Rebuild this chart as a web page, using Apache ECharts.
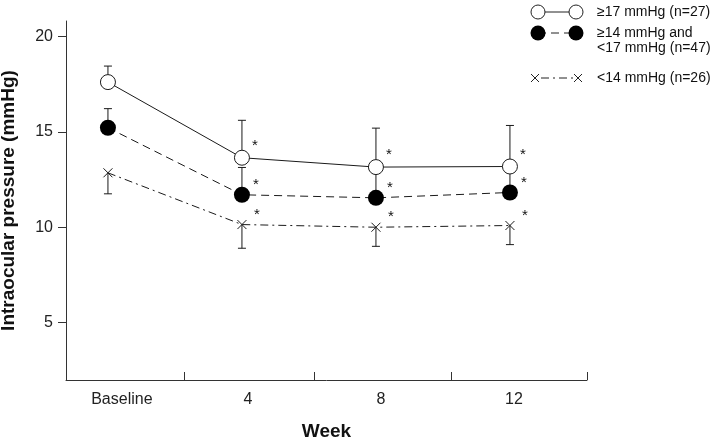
<!DOCTYPE html>
<html>
<head>
<meta charset="utf-8">
<script src="https://cdn.jsdelivr.net/npm/echarts@6/dist/echarts.min.js"></script>
<style>
html, body { margin: 0; padding: 0; background: #fff; }
#main { width: 710px; height: 439px; }
</style>
</head>
<body>
<div id="main"></div>
<script>
// x positions: 0 = Baseline, 1 = week 4, 2 = week 8, 3 = week 12
var weekLabels = ['Baseline', '4', '8', '12'];
var weekIdx = [0, 1, 2, 3];

var highMean = [17.6, 13.64, 13.15, 13.18];
var highUpper = [18.44, 15.6, 15.19, 15.33];

var midMean = [15.21, 11.7, 11.54, 11.82];
var midUpper = [16.21, 13.13, 13.0, 13.0];

var lowMean = [12.85, 10.14, 10.0, 10.09];
var lowLower = [11.75, 8.9, 9.0, 9.09];

var yTicks = [5, 10, 15, 20];

chart01();

function pairs(ys) {
    return ys.map(function (y, i) {
        return { value: [weekIdx[i], y], label: { show: i > 0 } };
    });
}

function bars(ys, ends) {
    return ys.map(function (y, i) { return [weekIdx[i], y, ends[i]]; });
}

function renderErr(params, api) {
    var p0 = api.coord([api.value(0), api.value(1)]);
    var p1 = api.coord([api.value(0), api.value(2)]);
    var st = { stroke: '#1a1a1a', lineWidth: 1 };
    return {
        type: 'group',
        children: [
            { type: 'line', shape: { x1: p0[0], y1: p0[1], x2: p1[0], y2: p1[1] }, style: st },
            { type: 'line', shape: { x1: p1[0] - 4, y1: p1[1], x2: p1[0] + 4, y2: p1[1] }, style: st }
        ]
    };
}

function chart01() {
    var myChart = echarts.init(document.getElementById('main'));
    var font = 'Liberation Sans, Arial, sans-serif';
    var star = {
        formatter: '*', position: 'right', color: '#111', fontSize: 15,
        fontFamily: font, offset: [2, -10]
    };
    var crossPath = 'path://M0,0L10,10M10,0L0,10';

    var option = {
        animation: false,
        textStyle: { fontFamily: font },
        grid: { left: 66, right: 123, top: 21, bottom: 59, outerBoundsMode: 'none', containLabel: false },
        xAxis: {
            type: 'value',
            min: -0.313, max: 3.575,
            name: 'Week', nameLocation: 'middle', nameGap: 42,
            nameTextStyle: { fontSize: 19, fontWeight: 'bold', color: '#111', fontFamily: font },
            axisLine: { onZero: false, lineStyle: { color: '#333', width: 1 } },
            axisTick: { show: true, inside: true, length: 8, lineStyle: { color: '#333' },
                customValues: [0.567, 1.537, 2.56, 3.575] },
            axisLabel: {
                customValues: [0.104, 1.045, 2.037, 3.03],
                formatter: function (v) { return weekLabels[Math.round(v)]; },
                fontSize: 16, color: '#222', margin: 12, fontFamily: font
            },
            splitLine: { show: false }
        },
        yAxis: {
            type: 'value',
            min: 2, max: 20.8,
            name: 'Intraocular pressure (mmHg)', nameLocation: 'middle', nameGap: 48,
            nameTextStyle: { fontSize: 19, fontWeight: 'bold', color: '#111', fontFamily: font },
            axisLine: { show: true, onZero: false, lineStyle: { color: '#333', width: 1 } },
            axisTick: { show: true, length: 8, lineStyle: { color: '#333' }, customValues: yTicks },
            axisLabel: { customValues: yTicks, fontSize: 16, color: '#222', margin: 13, fontFamily: font },
            splitLine: { show: false }
        },
        graphic: [
            // legend row 1
            { type: 'line', shape: { x1: 538, y1: 12, x2: 576, y2: 12 }, style: { stroke: '#222', lineWidth: 1 } },
            { type: 'circle', shape: { cx: 538, cy: 12, r: 7 }, style: { fill: '#fff', stroke: '#222', lineWidth: 1 } },
            { type: 'circle', shape: { cx: 576, cy: 12, r: 7 }, style: { fill: '#fff', stroke: '#222', lineWidth: 1 } },
            { type: 'text', x: 597, y: 12, style: { text: '≥17 mmHg (n=27)', font: '14px ' + font, fill: '#111', verticalAlign: 'middle' } },
            // legend row 2
            { type: 'line', shape: { x1: 538, y1: 33, x2: 576, y2: 33 }, style: { stroke: '#222', lineWidth: 1, lineDash: [8, 5] } },
            { type: 'circle', shape: { cx: 538, cy: 33, r: 7.5 }, style: { fill: '#000' } },
            { type: 'circle', shape: { cx: 576, cy: 33, r: 7.5 }, style: { fill: '#000' } },
            { type: 'text', x: 597, y: 33, style: { text: '≥14 mmHg and', font: '14px ' + font, fill: '#111', verticalAlign: 'middle' } },
            { type: 'text', x: 597, y: 48, style: { text: '<17 mmHg (n=47)', font: '14px ' + font, fill: '#111', verticalAlign: 'middle' } },
            // legend row 3
            { type: 'line', shape: { x1: 541, y1: 78, x2: 573, y2: 78 }, style: { stroke: '#222', lineWidth: 1, lineDash: [8, 4, 2, 4] } },
            { type: 'polyline', shape: { points: [[531, 74], [539, 82]] }, style: { stroke: '#222', lineWidth: 1 } },
            { type: 'polyline', shape: { points: [[531, 82], [539, 74]] }, style: { stroke: '#222', lineWidth: 1 } },
            { type: 'polyline', shape: { points: [[574, 74], [582, 82]] }, style: { stroke: '#222', lineWidth: 1 } },
            { type: 'polyline', shape: { points: [[574, 82], [582, 74]] }, style: { stroke: '#222', lineWidth: 1 } },
            { type: 'text', x: 597, y: 78, style: { text: '<14 mmHg (n=26)', font: '14px ' + font, fill: '#111', verticalAlign: 'middle' } }
        ],
        series: [{
            type: 'custom', renderItem: renderErr, data: bars(highMean, highUpper), z: 1, silent: true
        }, {
            type: 'custom', renderItem: renderErr, data: bars(midMean, midUpper), z: 1, silent: true
        }, {
            type: 'custom', renderItem: renderErr, data: bars(lowMean, lowLower), z: 1, silent: true
        }, {
            name: '≥17 mmHg (n=27)',
            type: 'line', z: 3,
            data: pairs(highMean),
            symbol: 'circle', symbolSize: 15,
            lineStyle: { color: '#1a1a1a', width: 1, type: 'solid' },
            itemStyle: { color: '#fff', borderColor: '#1a1a1a', borderWidth: 1 },
            label: Object.assign({}, star, { offset: [-3, -12] })
        }, {
            name: '≥14 mmHg and <17 mmHg (n=47)',
            type: 'line', z: 3,
            data: pairs(midMean),
            symbol: 'circle', symbolSize: 16,
            lineStyle: { color: '#1a1a1a', width: 1, type: [8, 5] },
            itemStyle: { color: '#000', borderColor: '#000', borderWidth: 0 },
            label: Object.assign({}, star, { offset: [-2, -10] })
        }, {
            name: '<14 mmHg (n=26)',
            type: 'line', z: 3,
            data: pairs(lowMean),
            symbol: crossPath, symbolSize: 9,
            lineStyle: { color: '#1a1a1a', width: 1, type: [8, 4, 2, 4] },
            itemStyle: { color: 'none', borderColor: '#1a1a1a', borderWidth: 1 },
            label: Object.assign({}, star, { offset: [0, -10] })
        }]
    };
    myChart.setOption(option);
}
</script>
</body>
</html>
